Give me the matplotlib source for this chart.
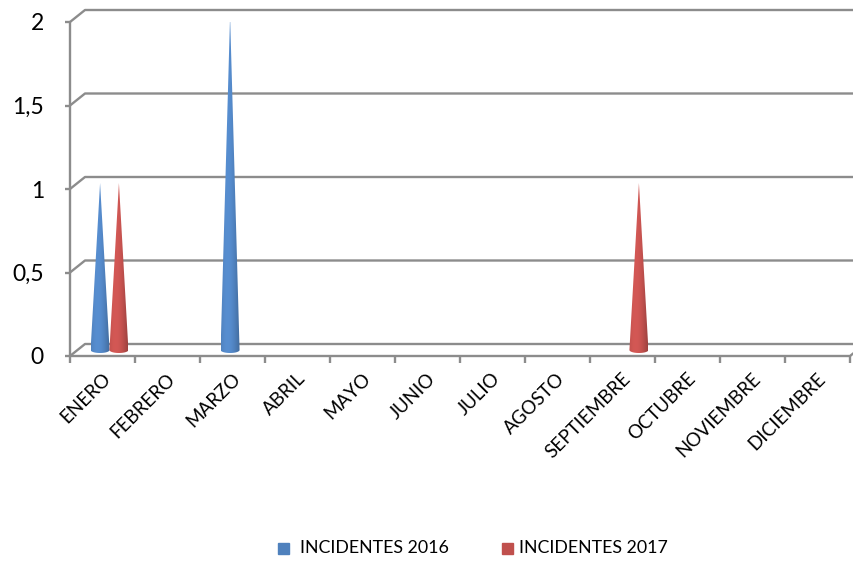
import numpy as np
import matplotlib.pyplot as plt
from matplotlib.colors import to_rgb
from matplotlib.path import Path
from matplotlib.patches import PathPatch, Rectangle

meses = ['ENERO', 'FEBRERO', 'MARZO', 'ABRIL', 'MAYO', 'JUNIO', 'JULIO',
         'AGOSTO', 'SEPTIEMBRE', 'OCTUBRE', 'NOVIEMBRE', 'DICIEMBRE']
incidentes_2016 = [1, 0, 2, 0, 0, 0, 0, 0, 0, 0, 0, 0]
incidentes_2017 = [1, 0, 0, 0, 0, 0, 0, 0, 1, 0, 0, 0]
series = ['INCIDENTES 2016', 'INCIDENTES 2017']
y_ticks = [0, 0.5, 1, 1.5, 2]
y_labels = ['0', '0,5', '1', '1,5', '2']

azul = '#4f81bd'
rojo = '#c0504d'
gris = '#8c8c8c'

plt.rcParams['font.family'] = ['Lato', 'DejaVu Sans']

W, H = 854, 561
fig = plt.figure(figsize=(W / 100, H / 100), dpi=100)
# plano frontal: x 70..850 px, y 356..22 px
ax = fig.add_axes([70 / W, (H - 356) / H, 780 / W, 334 / H])
ax.axis('off')

n = len(meses)
px_x = 780 / 12       # px por categoria
px_y = 334 / 2        # px por unidad
# profundidad del fondo y del centro de los conos
dxb, dyb = 15 / px_x, 12 / px_y
dxm, dym = 7 / px_x, 6 / px_y

kw = dict(color=gris, lw=1.7, clip_on=False, solid_capstyle='butt')

# paredes y suelo
for v in y_ticks:
    ax.plot([0, dxb, n + dxb], [v, v + dyb, v + dyb], **kw)
    ax.plot([-5 / px_x, 0], [v, v], **kw)
ax.plot([0, 0], [0, 2], **kw)
ax.plot([0, n, n + dxb], [0, 0, dyb], **kw)
for i in range(n + 1):
    ax.plot([i, i], [0, -7 / px_y], **kw)

for v, lab in zip(y_ticks, y_labels):
    ax.text(-26 / px_x, v - 2 / px_y, lab, ha='right', va='center',
            fontsize=16.5, clip_on=False)

for i, m in enumerate(meses):
    ax.text(i + 0.5 - 1 / px_x, -14 / px_y, m, rotation=45, ha='right',
            va='top', rotation_mode='anchor', fontsize=13.5, clip_on=False)


def cono(xc, val, color):
    hw = 9.5 / px_x
    eh = 3 / px_y
    y0 = dym
    verts = [(xc, y0 + val), (xc - hw, y0)]
    for a in np.linspace(np.pi, 2 * np.pi, 30):
        verts.append((xc + hw * np.cos(a), y0 + eh * np.sin(a)))
    verts.append((xc, y0 + val))
    patch = PathPatch(Path(verts), facecolor='none', edgecolor='none')
    ax.add_patch(patch)
    # sombreado horizontal del cono
    s = np.linspace(-1, 1, 200)
    shade = 0.85 + 0.25 * np.cos((s + 0.3) * 1.3)
    shade = np.clip(shade, 0.7, 1.1)
    rgb = np.array(to_rgb(color))
    img = np.clip(rgb[None, :] * shade[:, None], 0, 1)
    img = np.tile(img[None, :, :], (2, 1, 1))
    im = ax.imshow(img, extent=[xc - hw, xc + hw, y0 - eh, y0 + val],
                   aspect='auto', interpolation='bilinear', zorder=3)
    im.set_clip_path(patch)


for i in range(n):
    if incidentes_2016[i] > 0:
        cono(i + 0.5 - 0.145 + dxm, incidentes_2016[i], azul)
    if incidentes_2017[i] > 0:
        cono(i + 0.5 + 0.145 + dxm, incidentes_2017[i], rojo)
ax.set_xlim(0, 12)
ax.set_ylim(0, 2)

# leyenda
ly = 1 - 548 / H
for x0, xt, col, lab in [(278, 300, azul, series[0]),
                         (502, 519, rojo, series[1])]:
    fig.patches.append(Rectangle((x0 / W, ly - 6 / H), 11 / W, 11 / H,
                                 color=col, transform=fig.transFigure))
    fig.text(xt / W, ly, lab, fontsize=12.8, ha='left', va='center')

fig.savefig('out.png', dpi=100)
